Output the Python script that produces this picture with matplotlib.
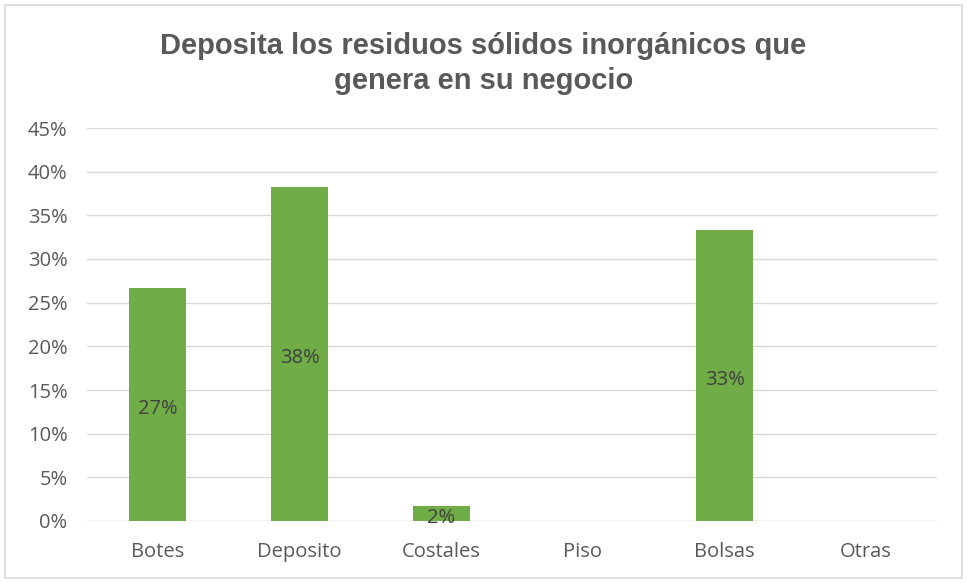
import matplotlib
matplotlib.use("Agg")
import matplotlib.pyplot as plt
from matplotlib.patches import Rectangle
from matplotlib.ticker import PercentFormatter, MultipleLocator

categories = ["Botes", "Deposito", "Costales", "Piso", "Bolsas", "Otras"]
values = [26.7, 38.3, 1.7, 0.0, 33.3, 0.0]
labels = ["27%", "38%", "2%", "", "33%", ""]
title = "Deposita los residuos sólidos inorgánicos que\ngenera en su negocio"

plt.rcParams['font.family'] = ['Open Sans', 'DejaVu Sans']

fig = plt.figure(figsize=(9.67, 5.83), dpi=100)
ax = fig.add_axes([87/967, 1 - 521/583, (937-87)/967, (521-128)/583])

x = list(range(len(categories)))
bars = ax.bar(x, values, width=0.4, color="#70AD47", zorder=3)
for b, v, lab in zip(bars, values, labels):
    if lab:
        ax.annotate(lab, (b.get_x() + b.get_width()/2, v/2), xytext=(0, -3),
                    textcoords="offset points", ha="center", va="center",
                    fontsize=14.5, color="#404040", zorder=4)

ax.set_xlim(-0.5, len(categories) - 0.5)
ax.set_ylim(0, 45)
ax.yaxis.set_major_locator(MultipleLocator(5))
ax.yaxis.set_major_formatter(PercentFormatter(decimals=0))
ax.set_xticks(x)
ax.set_xticklabels(categories)
ax.grid(axis="y", color="#D9D9D9", linewidth=1, zorder=0)
for s in ax.spines.values():
    s.set_visible(False)
ax.axhline(0, color="#D9D9D9", linewidth=1, zorder=2)
ax.tick_params(axis="both", length=0, labelsize=14.5, labelcolor="#595959")
ax.tick_params(axis="y", pad=14)
ax.tick_params(axis="x", pad=15)

fig.text(0.5, 1 - 63.5/583, title, ha="center", va="center", fontsize=21,
         fontweight="bold", color="#595959", family=["Liberation Sans", "DejaVu Sans"],
         linespacing=1.3)

fig.patches.append(Rectangle((5/967, 5/583), 957/967, 573/583, transform=fig.transFigure,
                             fill=False, edgecolor="#D9D9D9", linewidth=1.2))

fig.savefig("out.png", dpi=100)
